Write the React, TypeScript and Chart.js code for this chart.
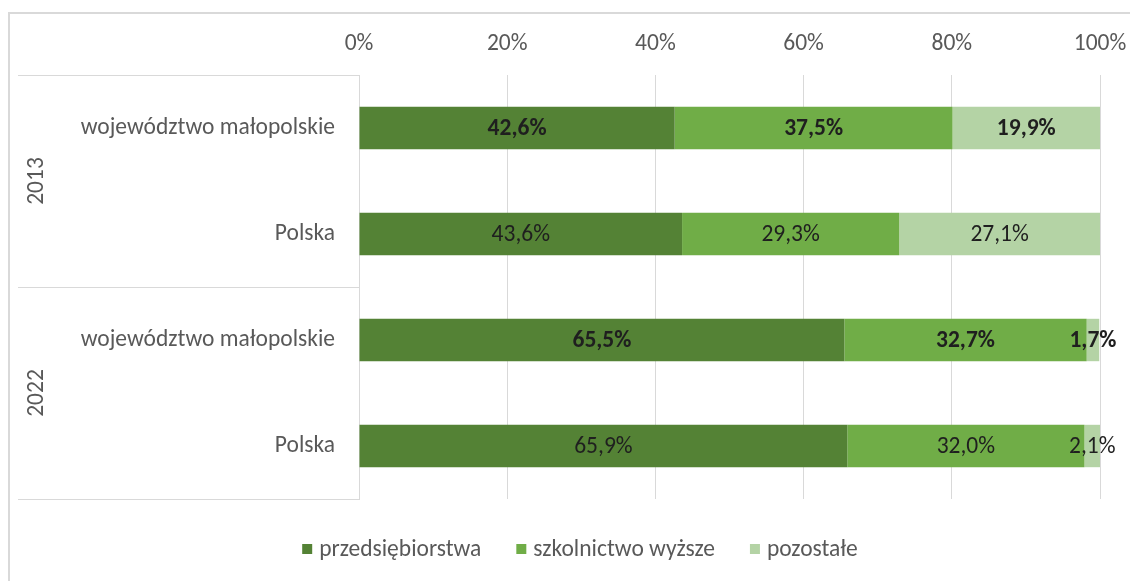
import React, { useEffect, useRef } from "react";
import { Chart, registerables } from "chart.js";

Chart.register(...registerables);

const categories = ["województwo małopolskie", "Polska", "województwo małopolskie", "Polska"];
const years = ["2013", "2022"];
const seriesNames = ["przedsiębiorstwa", "szkolnictwo wyższe", "pozostałe"];
const przedsiebiorstwa = [42.6, 43.6, 65.5, 65.9];
const szkolnictwo = [37.5, 29.3, 32.7, 32.0];
const pozostale = [19.9, 27.1, 1.7, 2.1];
const boldRows = [true, false, true, false];
const xTicks = [0, 20, 40, 60, 80, 100];

const colors = ["#548235", "#70AD47", "#B4D3A5"];
const FONT = "Carlito, Lato, 'Open Sans', sans-serif";
const GRAY = "#595959";
const LINE = "#D9D9D9";
const AXIS_SIZE = 23.5;
const LEGEND_SIZE = 23.5;

const fmt = (v: number) => v.toFixed(1).replace(".", ",") + "%";

const decor = {
  id: "decor",
  beforeDraw(chart: any) {
    const ctx = chart.ctx;
    ctx.save();
    ctx.strokeStyle = LINE;
    ctx.lineWidth = 2;
    ctx.strokeRect(9, 13, 2000, 2000);
    ctx.restore();
  },
  afterDatasetsDraw(chart: any) {
    const ctx = chart.ctx;
    ctx.save();
    ctx.textAlign = "center";
    ctx.textBaseline = "middle";
    ctx.fillStyle = "#1F1F1F";
    chart.data.datasets.forEach((ds: any, di: number) => {
      const meta = chart.getDatasetMeta(di);
      meta.data.forEach((el: any, i: number) => {
        const cx = (el.x + el.base) / 2;
        ctx.font = `${boldRows[i] ? "bold " : ""}${AXIS_SIZE}px ${FONT}`;
        ctx.fillText(fmt(ds.data[i]), cx, el.y + 1);
      });
    });
    ctx.restore();
  },
  afterDraw(chart: any) {
    const ctx = chart.ctx;
    const area = chart.chartArea;
    const y = chart.scales.y;
    const leftX = 18;
    const p = (i: number) => y.getPixelForValue(i);
    ctx.save();
    ctx.strokeStyle = LINE;
    ctx.lineWidth = 1;
    const sep = (p(1) + p(2)) / 2;
    [area.top, sep, area.bottom].forEach((yy: number) => {
      ctx.beginPath();
      ctx.moveTo(leftX, Math.round(yy) + 0.5);
      ctx.lineTo(area.left, Math.round(yy) + 0.5);
      ctx.stroke();
    });
    // year labels
    ctx.fillStyle = GRAY;
    ctx.font = `${AXIS_SIZE}px ${FONT}`;
    ctx.textAlign = "center";
    ctx.textBaseline = "middle";
    years.forEach((yr, g) => {
      const cy = (p(g * 2) + p(g * 2 + 1)) / 2;
      ctx.save();
      ctx.translate(37, cy);
      ctx.rotate(-Math.PI / 2);
      ctx.fillText(yr, 0, 0);
      ctx.restore();
    });
    // legend
    ctx.font = `${LEGEND_SIZE}px ${FONT}`;
    const box = 10;
    const gapBox = 7;
    const gapItem = 35;
    const widths = seriesNames.map((n) => ctx.measureText(n).width);
    const total = widths.reduce((a, w) => a + box + gapBox + w, 0) + gapItem * (seriesNames.length - 1);
    let x = 580 - total / 2;
    const ly = 549;
    ctx.textAlign = "left";
    seriesNames.forEach((n, i) => {
      ctx.fillStyle = colors[i];
      ctx.fillRect(x, ly - box / 2, box, box);
      x += box + gapBox;
      ctx.fillStyle = GRAY;
      ctx.fillText(n, x, ly + 1);
      x += widths[i] + gapItem;
    });
    ctx.restore();
  },
};

export default function App() {
  const ref = useRef<HTMLCanvasElement>(null);
  useEffect(() => {
    if (!ref.current) return;
    const chart = new Chart(ref.current, {
      type: "bar",
      data: {
        labels: categories,
        datasets: [przedsiebiorstwa, szkolnictwo, pozostale].map((d, i) => ({
          label: seriesNames[i],
          data: d,
          backgroundColor: colors[i],
          borderWidth: 0,
          barPercentage: 0.4,
          categoryPercentage: 1,
        })),
      },
      options: {
        indexAxis: "y",
        responsive: false,
        animation: false,
        layout: { padding: { left: 18, right: 30, top: 0, bottom: 82 } },
        plugins: { legend: { display: false }, tooltip: { enabled: false } },
        scales: {
          x: {
            position: "top",
            stacked: true,
            min: 0,
            max: 100,
            afterBuildTicks: (s: any) => {
              s.ticks = xTicks.map((v) => ({ value: v }));
            },
            afterFit: (s: any) => {
              s.height = 75;
              s.paddingLeft = 0;
              s.paddingRight = 0;
            },
            ticks: {
              color: GRAY,
              font: { family: FONT, size: AXIS_SIZE },
              padding: 17,
              callback: (v: any) => v + "%",
              maxRotation: 0,
            },
            grid: { color: LINE, drawTicks: false, lineWidth: 1 },
            border: { display: false },
          },
          y: {
            stacked: true,
            afterFit: (s: any) => {
              s.width = 341;
              s.paddingTop = 0;
              s.paddingBottom = 0;
            },
            ticks: {
              color: GRAY,
              font: { family: FONT, size: AXIS_SIZE },
              padding: 24,
            },
            grid: { display: false, drawTicks: false },
            border: { display: true, color: LINE, width: 1 },
          },
        },
      },
      plugins: [decor],
    } as any);
    return () => chart.destroy();
  }, []);
  return (
    <div style={{ position: "absolute", left: 0, top: 0, width: 1130, height: 581, background: "#fff" }}>
      <canvas ref={ref} width={1130} height={581} />
    </div>
  );
}
